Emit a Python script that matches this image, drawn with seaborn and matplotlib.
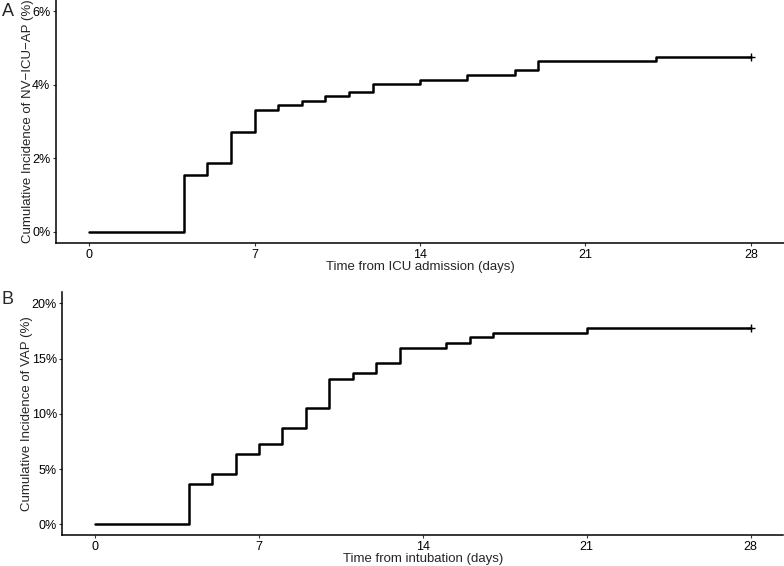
import matplotlib
matplotlib.use("Agg")
import matplotlib.pyplot as plt
from matplotlib.ticker import PercentFormatter
import seaborn as sns
import pandas as pd

# panel A: NV-ICU-AP, days from ICU admission
days_a = [0, 4, 5, 6, 7, 8, 9, 10, 11, 12, 14, 16, 18, 19, 24, 28]
cuminc_a = [0, 1.55, 1.88, 2.71, 3.32, 3.44, 3.56, 3.68, 3.80, 4.02, 4.14, 4.27, 4.40, 4.63, 4.74, 4.74]

# panel B: VAP, days from intubation
days_b = [0, 4, 5, 6, 7, 8, 9, 10, 11, 12, 13, 15, 16, 17, 21, 28]
cuminc_b = [0, 3.62, 4.55, 6.36, 7.27, 8.69, 10.5, 13.2, 13.66, 14.62, 16.0, 16.43, 16.92, 17.34, 17.8, 17.8]

xticks = [0, 7, 14, 21, 28]
yticks_a = [0, 2, 4, 6]
yticks_b = [0, 5, 10, 15, 20]

sns.set_style("ticks")
plt.rcParams['font.family'] = ['Liberation Sans', 'DejaVu Sans']

fig = plt.figure(figsize=(7.84, 5.66), dpi=100)
ax_a = fig.add_axes([0.0714, 0.5707, 0.9286, 0.4293])
ax_b = fig.add_axes([0.0797, 0.0539, 0.9195, 0.4297])


def km_panel(ax, days, cuminc, yticks, ylabel, xlabel):
    df = pd.DataFrame({'day': days, 'inc': cuminc})
    sns.lineplot(data=df, x='day', y='inc', ax=ax, color='black', linewidth=1.8,
                 drawstyle='steps-post', estimator=None, sort=False)
    # censor mark at end of follow-up
    ax.plot(df['day'].iloc[-1], df['inc'].iloc[-1], marker='+', color='black',
            markersize=6, markeredgewidth=1.0)
    ymax = yticks[-1]
    ax.set_xlim(-1.4, 29.4)
    ax.set_ylim(-0.05 * ymax, 1.05 * ymax)
    ax.set_xticks(xticks)
    ax.set_yticks(yticks)
    ax.yaxis.set_major_formatter(PercentFormatter(decimals=0))
    ax.set_xlabel(xlabel, fontsize=9.5, labelpad=0)
    ax.set_ylabel(ylabel, fontsize=9.5, labelpad=-1)
    ax.tick_params(direction='out', length=2.5, width=0.8, color='#333333',
                   labelsize=9, pad=1.5, labelcolor='black')
    sns.despine(ax=ax)
    for s in ['left', 'bottom']:
        ax.spines[s].set_linewidth(1.1)
        ax.spines[s].set_color('black')


km_panel(ax_a, days_a, cuminc_a, yticks_a,
         "Cumulative Incidence of NV\u2212ICU\u2212AP (%)", "Time from ICU admission (days)")
km_panel(ax_b, days_b, cuminc_b, yticks_b,
         "Cumulative Incidence of VAP (%)", "Time from intubation (days)")

fig.text(0.002, 0.995, "A", fontsize=13, va='top', ha='left')
fig.text(0.002, 0.485, "B", fontsize=13, va='top', ha='left')

plt.savefig("out.png", dpi=100)
